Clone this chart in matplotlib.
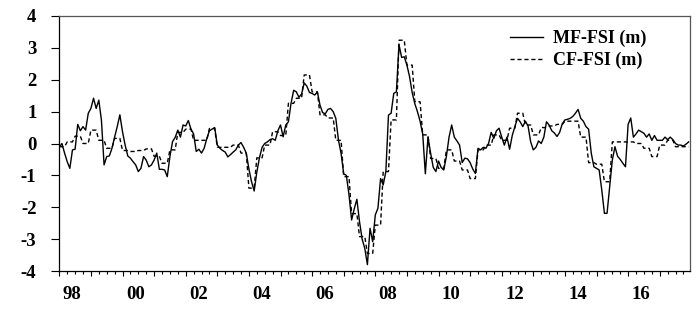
import numpy as np
import matplotlib
matplotlib.use("Agg")
from matplotlib import pyplot as plt
from matplotlib import transforms

# monthly MF-FSI, 1998M1 .. 2017M12
mf_fsi = [
    -0.12, 0.0, -0.3, -0.57, -0.78, -0.2, -0.18, 0.6, 0.4, 0.53, 0.42, 0.95,        # 1998
    1.1, 1.42, 1.1, 1.36, 0.73, -0.67, -0.41, -0.39, -0.15, 0.2, 0.53, 0.9,         # 1999
    0.37, -0.05, -0.39, -0.46, -0.57, -0.67, -0.88, -0.78, -0.41, -0.52, -0.73, -0.67,  # 2000
    -0.52, -0.3, -0.81, -0.81, -0.83, -1.04, -0.41, 0.06, 0.19, 0.42, 0.2, 0.58,    # 2001
    0.55, 0.72, 0.45, 0.3, -0.25, -0.18, -0.3, -0.15, 0.15, 0.4, 0.45, 0.5,         # 2002
    -0.05, -0.15, -0.22, -0.27, -0.42, -0.35, -0.27, -0.2, -0.05, 0.03, -0.12, -0.3,  # 2003
    -0.8, -1.2, -1.49, -0.9, -0.45, -0.12, 0.0, 0.05, 0.12, 0.15, 0.1, 0.4,         # 2004
    0.58, 0.21, 0.58, 0.68, 1.26, 1.67, 1.62, 1.45, 1.55, 1.9, 1.8, 1.6,            # 2005
    1.57, 1.52, 1.62, 1.2, 0.97, 0.93, 1.07, 1.1, 1.0, 0.79, 0.11, -0.31,           # 2006
    -0.95, -1.0, -1.6, -2.4, -2.05, -1.75, -2.45, -3.0, -3.29, -3.8, -2.66, -3.08,  # 2007
    -2.24, -2.03, -1.1, -1.3, -0.88, 0.89, 0.95, 1.57, 1.62, 3.1, 2.7, 2.72,        # 2008
    2.46, 2.1, 1.6, 1.25, 1.0, 0.7, 0.3, -0.95, 0.2, -0.3, -0.75, -0.88,            # 2009
    -0.55, -0.75, -0.83, -0.4, 0.2, 0.58, 0.2, 0.08, -0.05, -0.6, -0.46, -0.48,     # 2010
    -0.6, -0.8, -0.94, -0.15, -0.2, -0.12, -0.15, 0.0, 0.35, 0.16, 0.4, 0.48,       # 2011
    0.2, -0.05, 0.2, -0.18, 0.25, 0.53, 0.79, 0.68, 0.53, 0.7, 0.55, 0.05,          # 2012
    -0.2, -0.12, 0.08, 0.0, 0.2, 0.68, 0.58, 0.4, 0.33, 0.22, 0.35, 0.62,           # 2013
    0.74, 0.76, 0.79, 0.85, 0.95, 1.07, 0.79, 0.7, 0.53, 0.45, -0.3, -0.73,         # 2014
    -0.78, -0.83, -1.46, -2.19, -2.19, -1.35, -0.52, -0.1, -0.4, -0.5, -0.62, -0.73,  # 2015
    0.6, 0.8, 0.2, 0.3, 0.42, 0.37, 0.32, 0.2, 0.3, 0.1, 0.25, 0.1,                 # 2016
    0.1, 0.1, 0.2, 0.12, 0.2, 0.12, 0.0, -0.05, -0.05, -0.08, -0.02, 0.05,          # 2017
]

# quarterly CF-FSI, 1998Q1 .. 2017Q4 (shown at monthly frequency)
cf_fsi_q = [
    -0.1, 0.05, 0.23, 0.0,      # 1998
    0.42, 0.1, -0.15, 0.16,     # 1999
    -0.22, -0.25, -0.22, -0.17, # 2000
    -0.4, -0.62, -0.2, 0.35,    # 2001
    0.45, 0.1, 0.1, 0.47,       # 2002
    -0.12, -0.12, -0.05, -0.3,  # 2003
    -1.4, -0.45, -0.05, 0.37,   # 2004
    0.25, 1.26, 1.42, 2.15,     # 2005
    1.62, 0.9, 0.8, 0.1,        # 2006
    -1.04, -2.2, -2.92, -3.45,  # 2007
    -2.56, -0.88, 0.74, 3.24,   # 2008
    2.46, 1.31, 0.27, -0.47,    # 2009
    -0.78, -0.2, -0.55, -0.83,  # 2010
    -1.1, -0.2, -0.05, 0.27,    # 2011
    0.1, 0.48, 0.95, 0.58,      # 2012
    0.27, 0.5, 0.55, 0.6,       # 2013
    0.7, 0.7, 0.2, -0.6,        # 2014
    -0.65, -1.2, 0.05, 0.05,    # 2015
    0.05, 0.0, -0.15, -0.41,    # 2016
    -0.05, 0.1, -0.1, -0.1,     # 2017
]

year_labels = ["98", "00", "02", "04", "06", "08", "10", "12", "14", "16"]
y_ticks = [-4, -3, -2, -1, 0, 1, 2, 3, 4]

months = np.arange(len(mf_fsi))
cf_fsi = np.repeat(cf_fsi_q, 3)  # each quarter held for its three months

plt.rcParams['font.family'] = ['Liberation Serif', 'DejaVu Serif']

fig = plt.figure(figsize=(7.0, 3.17), dpi=100)
ax = fig.add_axes([59.3 / 700, 1 - 271 / 317, 630.7 / 700, 255 / 317])

ax.plot(months, mf_fsi, color='black', lw=1.0, label='MF-FSI (m)')
ax.plot(months, cf_fsi, color='black', lw=1.0, dashes=(3, 2), label='CF-FSI (m)')

ax.set_xlim(0, 239.5)
ax.set_ylim(-4, 4)
ax.set_yticks(y_ticks)
ax.set_yticklabels([str(v) for v in y_ticks], fontsize=13.5, fontweight='bold')

# years: long ticks, quarters: short ticks
ax.set_xticks(np.arange(0, 240, 12))
ax.set_xticklabels([])
ax.set_xticks(np.arange(0, 240, 3), minor=True)
ax.tick_params(axis='x', which='major', direction='out', length=3.6, width=0.8)
ax.tick_params(axis='x', which='minor', direction='out', length=2.0, width=0.8)
ax.tick_params(axis='y', direction='out', length=5.5, width=0.8, pad=11)

# year labels sit a little right of the year start
trans = transforms.blended_transform_factory(ax.transData, ax.transAxes)
for k, lab in enumerate(year_labels):
    ax.text(24 * k + 4.8, -0.092, lab, transform=trans, ha='center', va='center',
            fontsize=13.5, fontweight='bold')

for side in ['left', 'bottom']:
    ax.spines[side].set_color('black')
    ax.spines[side].set_linewidth(0.9)
for side in ['top', 'right']:
    ax.spines[side].set_color('#555555')
    ax.spines[side].set_linewidth(0.9)

ax.legend(loc='upper left', bbox_to_anchor=(0.7146, 0.945), frameon=False,
          prop={'size': 13, 'weight': 'bold'}, handlelength=1.85, handletextpad=0.55,
          borderpad=0, borderaxespad=0, labelspacing=0.25)

fig.savefig('out.png', dpi=100)
